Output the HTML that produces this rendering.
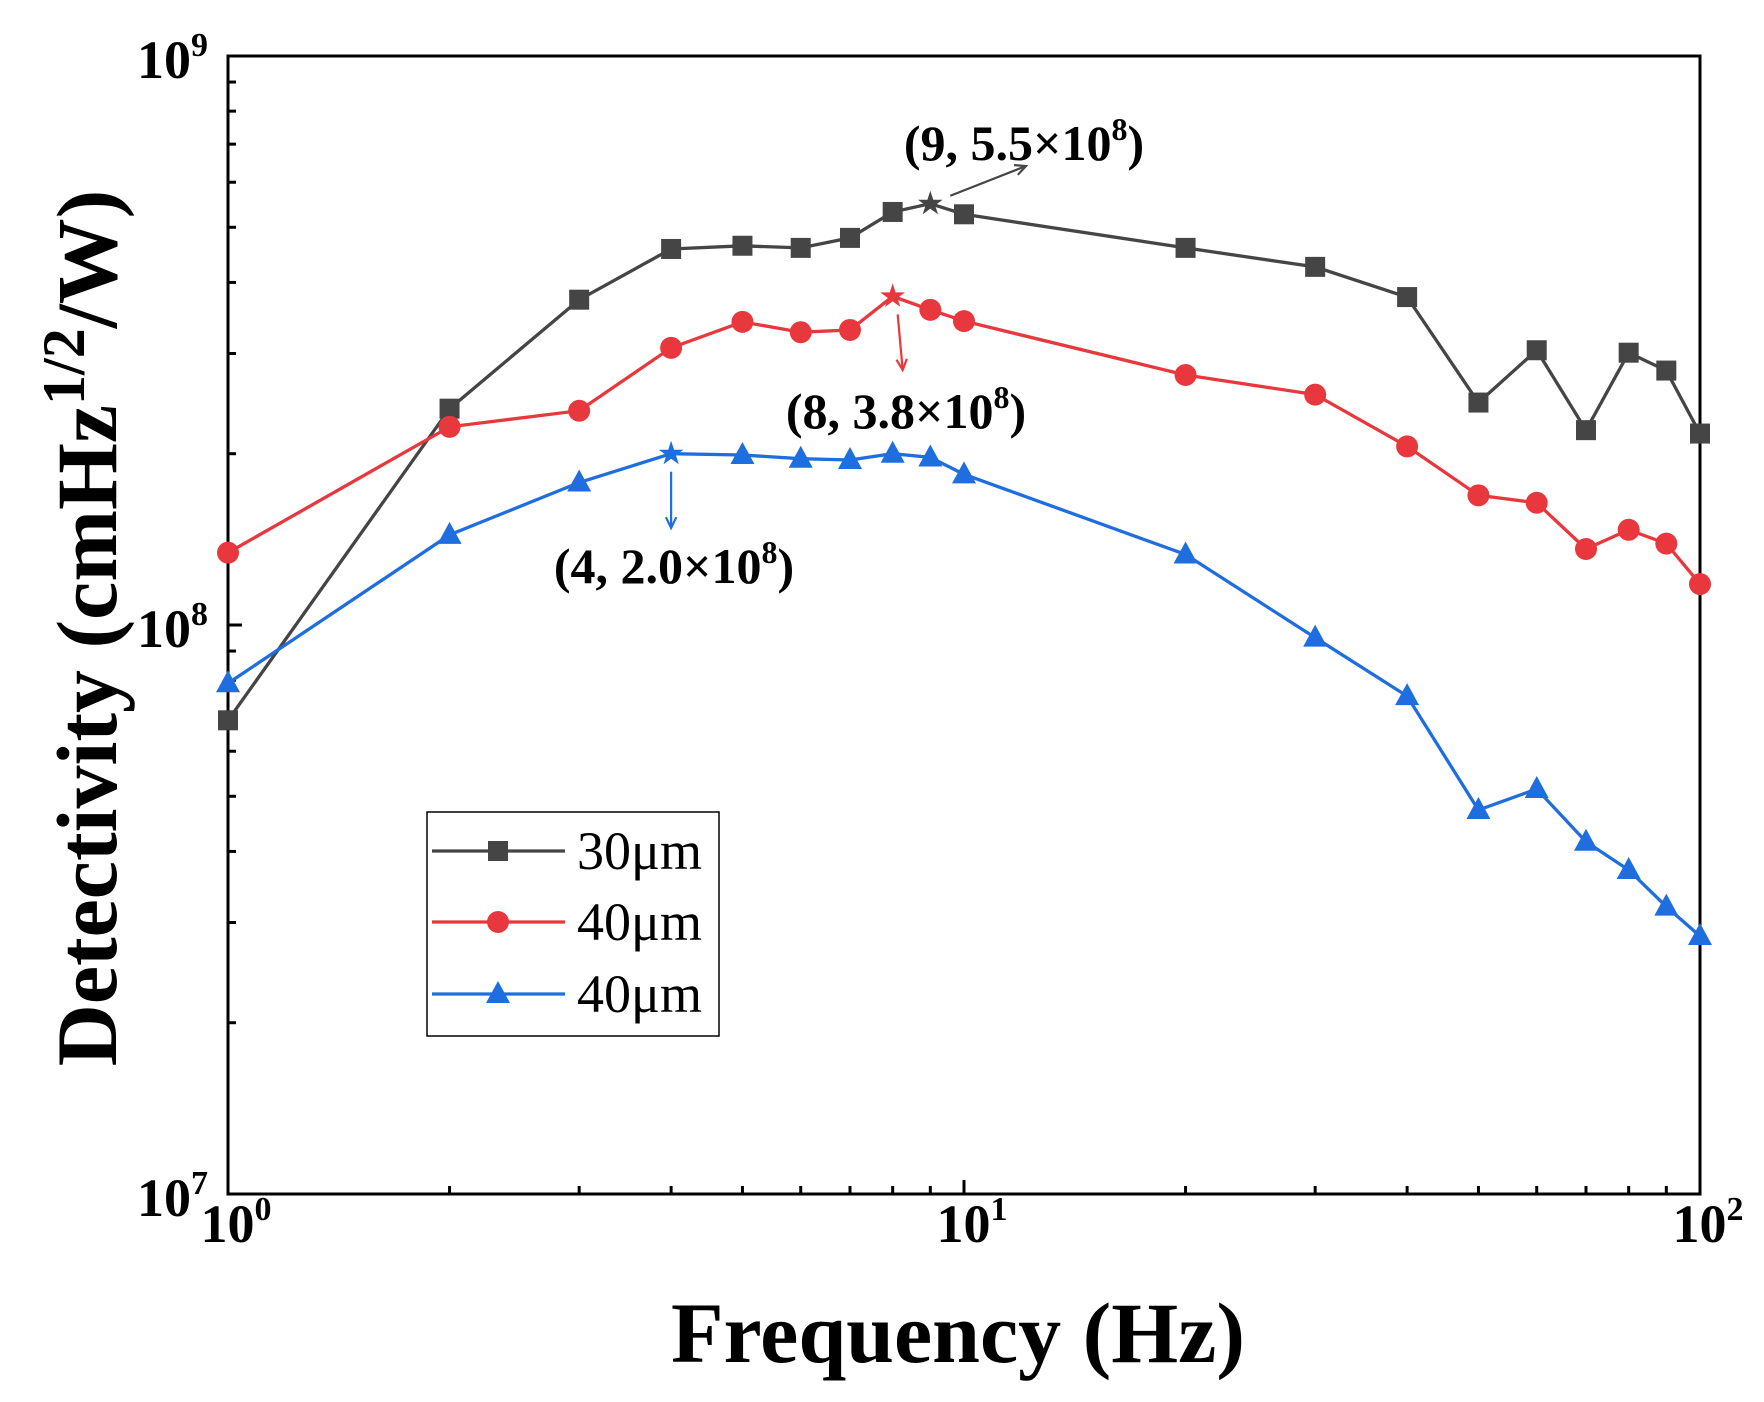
<!DOCTYPE html>
<html><head><meta charset="utf-8"><style>
html,body{margin:0;padding:0;background:#fff}
svg{display:block}
text{font-family:"Liberation Serif",serif}
</style></head><body>
<svg id="chart" width="1764" height="1402" viewBox="0 0 1764 1402" xmlns="http://www.w3.org/2000/svg">
<g id="axes"></g>
<g id="series"></g>
<g id="annot"></g>
<g id="legend"></g>
</svg>
<script>
const freqs = [1,2,3,4,5,6,7,8,9,10,20,30,40,50,60,70,80,90,100];
const d30 = [6.8e7,2.4e8,3.73e8,4.58e8,4.64e8,4.6e8,4.79e8,5.32e8,5.5e8,5.27e8,4.6e8,4.26e8,3.77e8,2.46e8,3.04e8,2.2e8,3.01e8,2.8e8,2.17e8];
const d40 = [1.34e8,2.23e8,2.38e8,3.07e8,3.41e8,3.27e8,3.3e8,3.78e8,3.58e8,3.42e8,2.75e8,2.54e8,2.06e8,1.69e8,1.64e8,1.36e8,1.47e8,1.39e8,1.18e8];
const d40b = [7.9e7,1.44e8,1.78e8,2.0e8,1.99e8,1.96e8,1.95e8,2.0e8,1.97e8,1.84e8,1.33e8,9.5e7,7.5e7,4.73e7,5.15e7,4.16e7,3.71e7,3.2e7,2.84e7];
const seriesNames = ["30μm","40μm","40μm"];
const starIdx = [8,7,3];
const xTickExp = [0,1,2];
const yTickExp = [7,8,9];

const NS="http://www.w3.org/2000/svg";
const L=228,R=1700,T=56,B=1194;
function xs(v){return L+(Math.log10(v)-0)/2*(R-L);}
function ys(v){return B-(Math.log10(v)-7)/2*(B-T);}
function mk(tag,attrs,parent){const e=document.createElementNS(NS,tag);for(const k in attrs)e.setAttribute(k,attrs[k]);parent.appendChild(e);return e;}
const axes=document.getElementById('axes');
const frame=mk('rect',{x:L,y:T,width:R-L,height:B-T,fill:'none',stroke:'#000','stroke-width':3},axes);


for(let e=0;e<2;e++){for(let m=1;m<10;m++){const v=Math.pow(10,e)*m;const x=xs(v);const len=m===1?14:8;
 const t=mk('line',{x1:x,x2:x,y1:B,y2:B-len,stroke:'#000','stroke-width':3},axes);
 
 }}
for(let e=7;e<9;e++){for(let m=1;m<10;m++){const v=Math.pow(10,e)*m;const y=ys(v);const len=m===1?14:8;
 const t=mk('line',{x1:L,x2:L+len,y1:y,y2:y,stroke:'#000','stroke-width':3},axes);
 
 }}
xTickExp.forEach(e=>{const t=mk('text',{x:xs(Math.pow(10,e))+8,y:1242,'text-anchor':'middle','font-size':54,'font-weight':'bold'},axes);
 
 
 t.innerHTML='10<tspan dy="-22" font-size="34">'+e+'</tspan>';});
yTickExp.forEach(e=>{const t=mk('text',{x:208,y:ys(Math.pow(10,e))+22,'text-anchor':'end','font-size':54,'font-weight':'bold'},axes);
 
 
 t.innerHTML='10<tspan dy="-22" font-size="34">'+e+'</tspan>';});
const xt=mk('text',{x:958,y:1362,'text-anchor':'middle','font-size':86,'font-weight':'bold'},axes);


xt.textContent='Frequency (Hz)';
const yt=mk('text',{x:0,y:0,'text-anchor':'middle','font-size':86,'font-weight':'bold',transform:'translate(116,628) rotate(-90)'},axes);


yt.innerHTML='Detectivity (cmHz<tspan dy="-32" font-size="60">1/2</tspan><tspan dy="32">/W)</tspan>';

const colors=['#454545','#e8383d','#1f6ee0'];
const shapes=['square','circle','triangle'];
const data=[d30,d40,d40b];
const sg=document.getElementById('series');
function marker(shape,x,y,c,g){let e;
 if(shape==='square')e=mk('rect',{x:x-10,y:y-10,width:20,height:20,fill:c},g);
 else if(shape==='circle')e=mk('circle',{cx:x,cy:y,r:11,fill:c},g);
 else if(shape==='triangle')e=mk('polygon',{points:`${x},${y-13} ${x+12},${y+9} ${x-12},${y+9}`,fill:c},g);
 else {let p=[];for(let i=0;i<10;i++){const r=i%2?5:13;const a=-Math.PI/2+i*Math.PI/5;p.push((x+r*Math.cos(a)).toFixed(1)+','+(y+r*Math.sin(a)).toFixed(1));}
   e=mk('polygon',{points:p.join(' '),fill:c},g);}
 return e;}
data.forEach((arr,si)=>{const g=mk('g',{},sg);
 
 
 const pts=arr.map((v,i)=>xs(freqs[i]).toFixed(1)+','+ys(v).toFixed(1)).join(' ');
 const pl=mk('polyline',{points:pts,fill:'none',stroke:colors[si],'stroke-width':3.3},g);
 
 
 arr.forEach((v,i)=>{const m=marker(i===starIdx[si]?'star':shapes[si],xs(freqs[i]),ys(v),colors[si],g);
  
  });
});
const ag=document.getElementById('annot');
function arrow(x1,y1,x2,y2,c){const g=mk('g',{},ag);
 
 
 mk('line',{x1,y1,x2,y2,stroke:c,'stroke-width':2.2},g);
 const a=Math.atan2(y2-y1,x2-x1),s=12;
 mk('polyline',{points:`${x2-s*Math.cos(a-0.45)},${y2-s*Math.sin(a-0.45)} ${x2},${y2} ${x2-s*Math.cos(a+0.45)},${y2-s*Math.sin(a+0.45)}`,fill:'none',stroke:c,'stroke-width':2.2},g);}
function label(x,y,txt,exp){const t=mk('text',{x,y,'text-anchor':'middle','font-size':50,'font-weight':'bold'},ag);
 
 
 t.innerHTML=txt+'10<tspan dy="-20" font-size="32">'+exp+'</tspan><tspan dy="20">)</tspan>';}
arrow(xs(freqs[8])+20,ys(d30[8])-8,1026,166,colors[0]);
label(1024,160,'(9, 5.5×','8');
arrow(xs(freqs[7])+5,ys(d40[7])+18,xs(freqs[7])+10,370,colors[1]);
label(906,428,'(8, 3.8×','8');
arrow(xs(freqs[3]),ys(d40b[3])+18,xs(freqs[3]),528,colors[2]);
label(674,583,'(4, 2.0×','8');
const lg=document.getElementById('legend');
const box=mk('rect',{x:427,y:812,width:292,height:224,fill:'#fff',stroke:'#000','stroke-width':1.5},lg);


const ly=[851,922,994];
seriesNames.forEach((n,i)=>{const g=mk('g',{},lg);
 
 
 mk('line',{x1:432,x2:565,y1:ly[i],y2:ly[i],stroke:colors[i],'stroke-width':3.3},g);
 marker(shapes[i],498,ly[i],colors[i],g);
 const t=mk('text',{x:577,y:ly[i]+18,'font-size':54},g);
 t.textContent=n;});
</script>
</body></html>
